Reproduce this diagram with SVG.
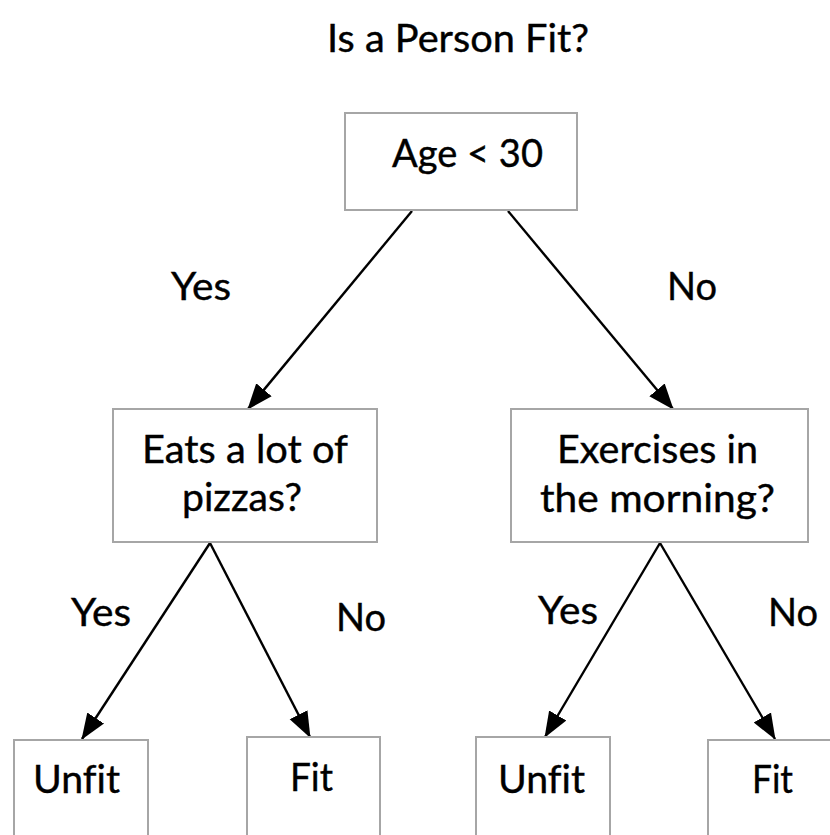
<svg xmlns="http://www.w3.org/2000/svg" width="830" height="835" viewBox="0 0 830 835">
  <style>
    .box { fill: #ffffff; stroke: #a6a6a6; stroke-width: 2; }
    .txt { font-family: Lato, "Open Sans", "Liberation Sans", sans-serif; font-size: 38px; fill: #000000; font-variant-ligatures: none; stroke: #000000; stroke-width: 0.4; }
    .edge { stroke: #000000; stroke-width: 2.4; fill: none; marker-end: url(#arrow); }
  </style>
  <defs>
    <marker id="arrow" markerUnits="userSpaceOnUse" markerWidth="26" markerHeight="22" viewBox="0 0 26 22" refX="25" refY="11" orient="auto">
      <path d="M0,1 L26,11 L0,21 Z" fill="#000000"/>
    </marker>
  </defs>

  <rect width="830" height="835" fill="#ffffff"/>

  <text class="txt" x="458" y="52" text-anchor="middle" textLength="262" lengthAdjust="spacingAndGlyphs">Is a Person Fit?</text>

  <g id="connectors">
    <line class="edge" x1="412" y1="211" x2="248" y2="409"/>
    <line class="edge" x1="508" y1="211" x2="673" y2="409"/>
    <line class="edge" x1="210" y1="543" x2="82" y2="739"/>
    <line class="edge" x1="210" y1="543" x2="310" y2="737"/>
    <line class="edge" x1="660" y1="543" x2="545" y2="737"/>
    <line class="edge" x1="660" y1="543" x2="775" y2="739"/>
    <text class="txt" x="201" y="300" text-anchor="middle" textLength="60" lengthAdjust="spacingAndGlyphs">Yes</text>
    <text class="txt" x="692" y="300" text-anchor="middle" textLength="50" lengthAdjust="spacingAndGlyphs">No</text>
    <text class="txt" x="101" y="626" text-anchor="middle" textLength="60" lengthAdjust="spacingAndGlyphs">Yes</text>
    <text class="txt" x="361" y="631" text-anchor="middle" textLength="50" lengthAdjust="spacingAndGlyphs">No</text>
    <text class="txt" x="568" y="624" text-anchor="middle" textLength="60" lengthAdjust="spacingAndGlyphs">Yes</text>
    <text class="txt" x="793" y="626" text-anchor="middle" textLength="50" lengthAdjust="spacingAndGlyphs">No</text>
  </g>

  <g id="node-age">
    <rect class="box" x="345" y="113" width="232" height="97"/>
    <text class="txt" x="467.5" y="167" text-anchor="middle" textLength="151" lengthAdjust="spacingAndGlyphs">Age &lt; 30</text>
  </g>

  <g id="node-pizzas">
    <rect class="box" x="113" y="409" width="264" height="133"/>
    <text class="txt" x="245" y="463" text-anchor="middle" textLength="206" lengthAdjust="spacingAndGlyphs">Eats a lot of</text>
    <text class="txt" x="242" y="511" text-anchor="middle" textLength="120" lengthAdjust="spacingAndGlyphs">pizzas?</text>
  </g>

  <g id="node-exercise">
    <rect class="box" x="511" y="409" width="297" height="133"/>
    <text class="txt" x="657.5" y="463" text-anchor="middle" textLength="201" lengthAdjust="spacingAndGlyphs">Exercises in</text>
    <text class="txt" x="657.5" y="512" text-anchor="middle" textLength="235" lengthAdjust="spacingAndGlyphs">the morning?</text>
  </g>

  <g id="leaf-unfit-1">
    <rect class="box" x="14" y="740" width="134" height="110"/>
    <text class="txt" x="76.5" y="793" text-anchor="middle" textLength="87" lengthAdjust="spacingAndGlyphs">Unfit</text>
  </g>

  <g id="leaf-fit-1">
    <rect class="box" x="247" y="737" width="133" height="110"/>
    <text class="txt" x="311.5" y="791" text-anchor="middle" textLength="43" lengthAdjust="spacingAndGlyphs">Fit</text>
  </g>

  <g id="leaf-unfit-2">
    <rect class="box" x="476" y="737" width="134" height="110"/>
    <text class="txt" x="541.5" y="793" text-anchor="middle" textLength="87" lengthAdjust="spacingAndGlyphs">Unfit</text>
  </g>

  <g id="leaf-fit-2">
    <rect class="box" x="708" y="740" width="134" height="110"/>
    <text class="txt" x="772.5" y="793" text-anchor="middle" textLength="41" lengthAdjust="spacingAndGlyphs">Fit</text>
  </g>
</svg>
